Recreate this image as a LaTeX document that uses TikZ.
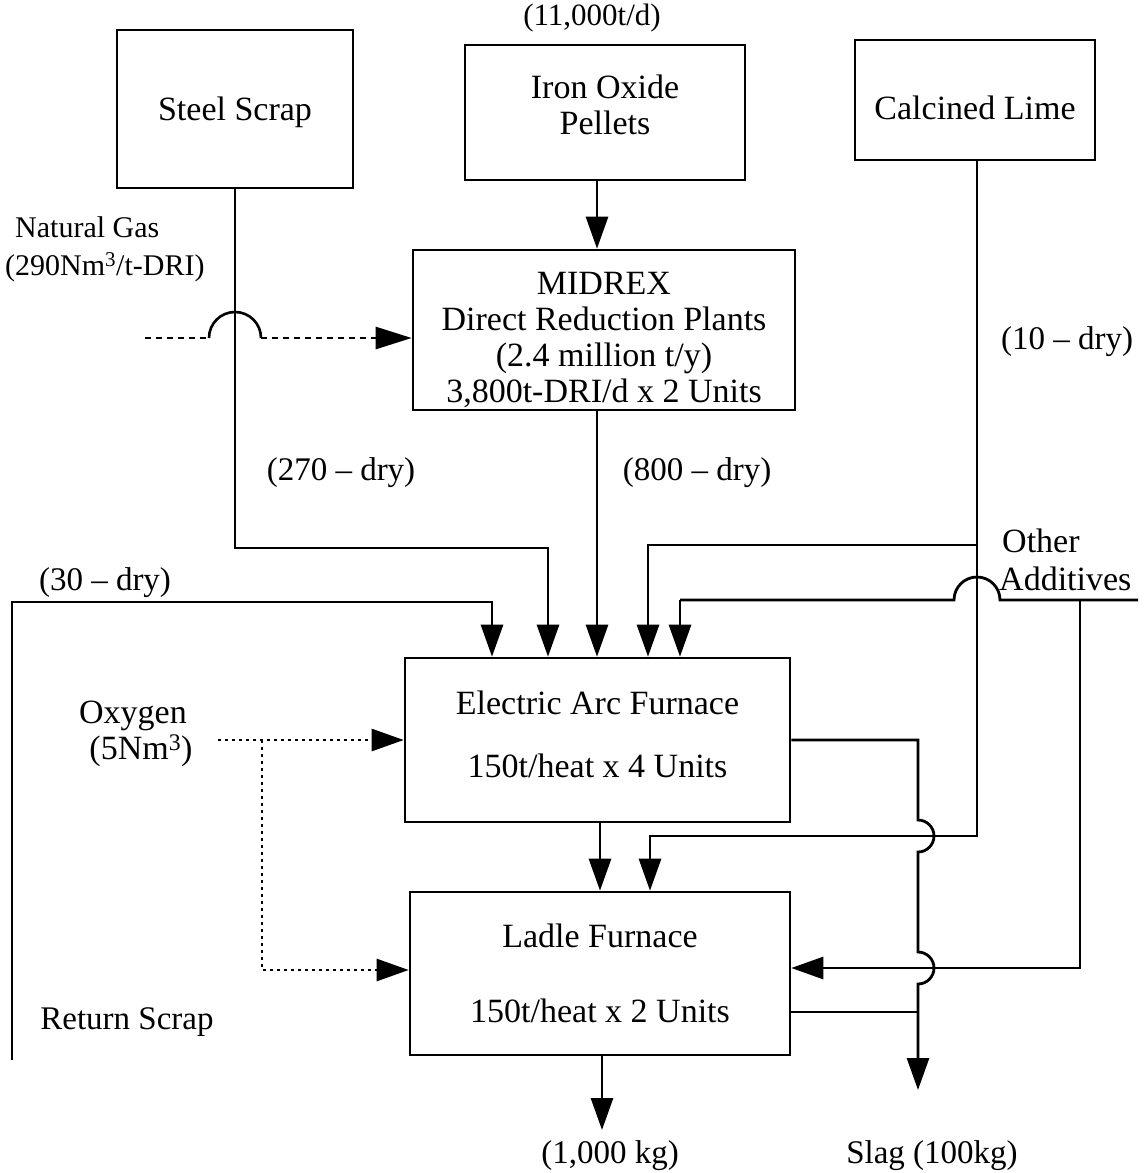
\documentclass[tikz,border=0pt]{standalone}
\usepackage{fontspec}
\setmainfont{Liberation Serif}
\usetikzlibrary{arrows.meta}
\begin{document}
\begin{tikzpicture}[x=1pt,y=-1pt,
  box/.style={draw,line width=2.6pt,rectangle,align=center,inner sep=0pt,font=\fontsize{34}{36}\selectfont},
  lbl/.style={inner sep=0pt,align=center,font=\fontsize{33}{36}\selectfont},
  line/.style={line width=2.8pt},
  flow/.style={line width=2.8pt,-{Triangle[length=32pt,width=22pt]}},
  gasdash/.style={line width=2.6pt,dash pattern=on 6pt off 5pt},
  oxdot/.style={line width=2.6pt,dash pattern=on 3pt off 4pt},
  hop/.style={line width=2.6pt}]
\useasboundingbox (0,0) rectangle (1146,1173);
% boxes
\node[box,minimum width=236pt,minimum height=158pt] (scrap) at (235,109) {\rule{0pt}{31pt}Steel Scrap};
\node[box,minimum width=280pt,minimum height=135pt] (pellets) at (605,112.5) {Iron Oxide\\Pellets\rule[-16pt]{0pt}{0pt}};
\node[box,minimum width=240pt,minimum height=120pt] (lime) at (975,100) {\rule{0pt}{40pt}Calcined Lime};
\node[box,minimum width=382pt,minimum height=160pt] (midrex) at (604,330) {\rule{0pt}{42pt}MIDREX\\Direct Reduction Plants\\(2.4 million t/y)\\3,800t-DRI/d x 2 Units};
\node[box,minimum width=385pt,minimum height=164pt] (eaf) at (597.5,740) {Electric Arc Furnace\\[27pt]150t/heat x 4 Units\rule[-12pt]{0pt}{0pt}};
\node[box,minimum width=380pt,minimum height=163pt] (ladle) at (600,973.5) {Ladle Furnace\\[39pt]150t/heat x 2 Units};
% labels
\node[lbl,font=\fontsize{31}{36}\selectfont] (tpell) at (592,18) {(11,000t/d)};
\node[lbl,align=left,anchor=west,font=\fontsize{30}{38}\selectfont] (tgas) at (5,249) {\hspace*{10pt}Natural Gas\\(290Nm\textsuperscript{3}/t-DRI)};
\node[lbl] (t270) at (341,473) {(270 – dry)};
\node[lbl] (t800) at (697,473) {(800 – dry)};
\node[lbl] (t10) at (1067,342) {(10 – dry)};
\node[lbl] (t30) at (105,583) {(30 – dry)};
\node[lbl,align=left,anchor=west,font=\fontsize{34}{38}\selectfont] (tadd) at (999,560) {\hspace*{3pt}Other\\Additives};
\node[lbl,font=\fontsize{34}{36}\selectfont] (tox) at (133,734) {Oxygen\\\hspace*{16pt}(5Nm\textsuperscript{3})};
\node[lbl] (tret) at (127,1022) {Return Scrap};
\node[lbl] (tout) at (610,1156) {(1,000 kg)};
\node[lbl] (tslag) at (932,1156) {Slag (100kg)};
% free ends
\coordinate (gasStart) at (145,338);
\coordinate (addEnd) at (1138,600);
\coordinate (retStart) at (12,1060);
\coordinate (oxStart) at (218,740);
\coordinate (oxBranch) at (262,740);
\coordinate (limeBranch) at (977,545);
\coordinate (outEnd) at (602,1130);
\coordinate (slagEnd) at (918,1090);
% steel scrap
\draw[flow] (scrap.south) |- (548,548) -- (548,0 |- eaf.north);
% pellets to midrex
\draw[flow] (597,0 |- pellets.south) -- (597,0 |- midrex.north);
% midrex to eaf
\draw[flow] (597,0 |- midrex.south) -- (597,0 |- eaf.north);
% natural gas
\draw[gasdash] (gasStart) -- (209,338);
\draw[hop] (209,338) .. controls (209,323.6) and (220.6,312) .. (235,312) .. controls (249.4,312) and (261,323.6) .. (261,338);
\draw[gasdash,-{Triangle[length=36pt,width=22pt]}] (261,338) -- (midrex.west |- 0,338);
% calcined lime
\draw[flow] (977,0 |- lime.south) -- (977,836) -| (650,0 |- ladle.north);
\draw[flow] (limeBranch) -| (648,0 |- eaf.north);
% other additives
\draw[line] (addEnd) -- (1000,600) .. controls (1000,587.3) and (989.7,577) .. (977,577) .. controls (964.3,577) and (954,587.3) .. (954,600) -- (680,600);
\draw[flow] (680,600) -- (680,0 |- eaf.north);
\draw[flow] (1080,600) |- (ladle.east |- 0,968);
% return scrap
\draw[flow] (retStart) |- (492,602) -- (492,0 |- eaf.north);
% oxygen
\draw[oxdot,-{Triangle[length=32pt,width=22pt]}] (oxStart) -- (eaf.west);
\draw[oxdot,-{Triangle[length=32pt,width=22pt]}] (oxBranch) |- (ladle.west |- 0,970);
% slag
\draw[flow] (eaf.east) -- (918,740) -- (918,820) .. controls (926.8,820) and (934,827.2) .. (934,836) .. controls (934,844.8) and (926.8,852) .. (918,852) -- (918,952) .. controls (926.8,952) and (934,959.2) .. (934,968) .. controls (934,976.8) and (926.8,984) .. (918,984) -- (slagEnd);
\draw[line] (ladle.east |- 0,1012) -- (918,1012);
% eaf to ladle, ladle out
\draw[flow] (600,0 |- eaf.south) -- (600,0 |- ladle.north);
\draw[flow] (602,0 |- ladle.south) -- (outEnd);
\end{tikzpicture}
\end{document}
